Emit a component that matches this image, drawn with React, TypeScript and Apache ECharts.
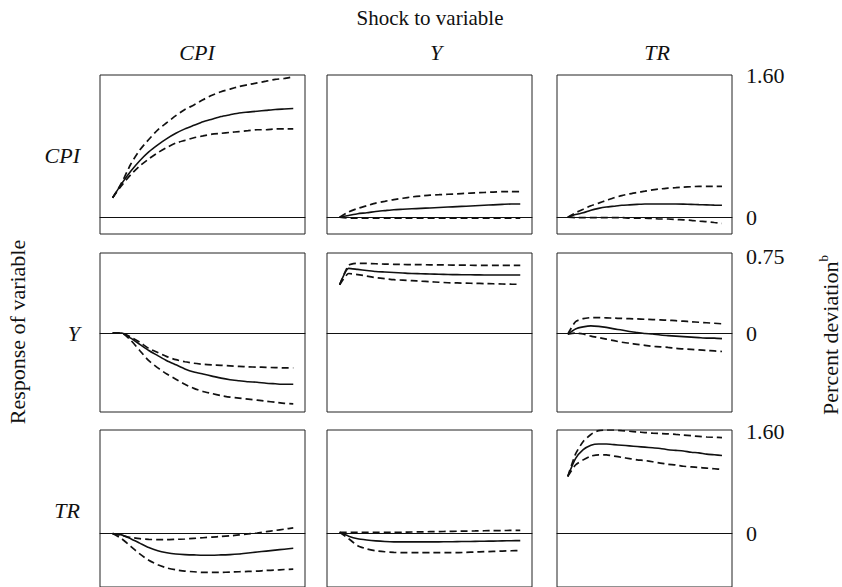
import React, { useEffect, useRef } from "react";
import * as echarts from "echarts";

// ---------- data ----------
const periods = [0, 1, 2, 3, 4, 5, 6, 7, 8, 9, 10, 11, 12, 13, 14, 15, 16, 17, 18, 19, 20];
const shockVars = ["CPI", "Y", "TR"];
const responseVars = ["CPI", "Y", "TR"];
const rowTickValues = [[0, 1.6], [0, 0.75], [0, 1.6]];
const rowTickLabels = [["0", "1.60"], ["0", "0.75"], ["0", "1.60"]];
const rowRanges = [[-0.19, 1.61], [-0.77, 0.78], [-0.84, 1.63]];

// response CPI
const cpiCpiMid = [0.22, 0.38, 0.52, 0.64, 0.74, 0.82, 0.89, 0.95, 1.0, 1.04, 1.08, 1.11, 1.14, 1.16, 1.18, 1.19, 1.2, 1.21, 1.22, 1.225, 1.23];
const cpiCpiHi = [0.22, 0.39, 0.6, 0.76, 0.88, 0.99, 1.07, 1.15, 1.22, 1.27, 1.33, 1.38, 1.42, 1.45, 1.48, 1.5, 1.52, 1.54, 1.56, 1.57, 1.59];
const cpiCpiLo = [0.22, 0.36, 0.48, 0.58, 0.66, 0.73, 0.79, 0.84, 0.87, 0.9, 0.92, 0.94, 0.95, 0.96, 0.97, 0.98, 0.99, 0.99, 1.0, 1.0, 1.0];
const cpiYMid = [0, 0.02, 0.04, 0.05, 0.065, 0.075, 0.085, 0.09, 0.095, 0.1, 0.105, 0.11, 0.115, 0.12, 0.125, 0.13, 0.135, 0.14, 0.145, 0.15, 0.15];
const cpiYHi = [0, 0.06, 0.1, 0.13, 0.16, 0.18, 0.2, 0.215, 0.23, 0.24, 0.25, 0.255, 0.26, 0.265, 0.27, 0.275, 0.28, 0.285, 0.29, 0.29, 0.29];
const cpiYLo = [0, -0.01, -0.01, -0.01, -0.01, -0.01, -0.01, -0.01, -0.01, -0.01, -0.01, -0.01, -0.01, -0.01, -0.01, -0.01, -0.01, -0.01, -0.01, -0.01, -0.01];
const cpiTrMid = [0, 0.03, 0.05, 0.08, 0.1, 0.115, 0.125, 0.135, 0.14, 0.145, 0.15, 0.15, 0.15, 0.15, 0.15, 0.148, 0.145, 0.142, 0.14, 0.137, 0.135];
const cpiTrHi = [0, 0.05, 0.09, 0.13, 0.16, 0.19, 0.22, 0.245, 0.265, 0.28, 0.295, 0.31, 0.32, 0.33, 0.335, 0.34, 0.345, 0.35, 0.35, 0.35, 0.35];
const cpiTrLo = [0, -0.005, -0.005, -0.005, -0.005, -0.005, -0.005, -0.005, -0.01, -0.01, -0.01, -0.015, -0.02, -0.02, -0.025, -0.03, -0.035, -0.045, -0.05, -0.06, -0.07];

// response Y
const yCpiMid = [0, 0, -0.05, -0.11, -0.17, -0.22, -0.27, -0.31, -0.35, -0.38, -0.4, -0.42, -0.44, -0.455, -0.465, -0.475, -0.48, -0.49, -0.495, -0.5, -0.5];
const yCpiHi = [0, 0, -0.04, -0.09, -0.15, -0.19, -0.23, -0.26, -0.28, -0.295, -0.305, -0.31, -0.315, -0.32, -0.325, -0.33, -0.332, -0.335, -0.337, -0.34, -0.34];
const yCpiLo = [0, 0, -0.07, -0.17, -0.27, -0.34, -0.4, -0.45, -0.5, -0.54, -0.57, -0.59, -0.61, -0.625, -0.635, -0.645, -0.655, -0.665, -0.675, -0.685, -0.69];
const yYMid = [0.47, 0.63, 0.62, 0.61, 0.6, 0.595, 0.59, 0.585, 0.58, 0.578, 0.575, 0.573, 0.57, 0.569, 0.568, 0.567, 0.566, 0.566, 0.565, 0.565, 0.565];
const yYHi = [0.47, 0.66, 0.68, 0.678, 0.675, 0.672, 0.67, 0.668, 0.667, 0.666, 0.665, 0.664, 0.663, 0.662, 0.661, 0.66, 0.66, 0.66, 0.66, 0.66, 0.66];
const yYLo = [0.47, 0.58, 0.57, 0.555, 0.54, 0.53, 0.52, 0.515, 0.51, 0.505, 0.5, 0.495, 0.49, 0.488, 0.486, 0.484, 0.482, 0.48, 0.478, 0.476, 0.475];
const yTrMid = [-0.01, 0.04, 0.06, 0.07, 0.065, 0.055, 0.04, 0.03, 0.015, 0.005, -0.005, -0.01, -0.02, -0.025, -0.03, -0.035, -0.04, -0.045, -0.05, -0.05, -0.055];
const yTrHi = [-0.01, 0.11, 0.14, 0.15, 0.15, 0.148, 0.145, 0.142, 0.14, 0.137, 0.134, 0.131, 0.128, 0.125, 0.12, 0.115, 0.11, 0.105, 0.1, 0.095, 0.09];
const yTrLo = [-0.01, 0.0, -0.01, -0.03, -0.045, -0.06, -0.075, -0.09, -0.1, -0.11, -0.12, -0.13, -0.135, -0.14, -0.15, -0.155, -0.16, -0.165, -0.17, -0.175, -0.18];

// response TR
const trCpiMid = [0, -0.02, -0.08, -0.15, -0.22, -0.27, -0.3, -0.32, -0.33, -0.335, -0.34, -0.34, -0.335, -0.33, -0.32, -0.305, -0.29, -0.275, -0.26, -0.245, -0.23];
const trCpiHi = [0, -0.03, -0.06, -0.08, -0.09, -0.095, -0.095, -0.09, -0.085, -0.075, -0.065, -0.055, -0.045, -0.035, -0.02, -0.005, 0.01, 0.03, 0.05, 0.07, 0.09];
const trCpiLo = [0, -0.08, -0.2, -0.32, -0.42, -0.49, -0.54, -0.57, -0.59, -0.6, -0.61, -0.61, -0.61, -0.605, -0.6, -0.595, -0.59, -0.58, -0.575, -0.565, -0.56];
const trYMid = [0.02, -0.04, -0.08, -0.1, -0.115, -0.125, -0.13, -0.13, -0.13, -0.13, -0.13, -0.13, -0.128, -0.126, -0.124, -0.122, -0.12, -0.118, -0.115, -0.112, -0.11];
const trYHi = [0.02, 0.02, 0.02, 0.02, 0.02, 0.02, 0.02, 0.022, 0.025, 0.027, 0.03, 0.032, 0.035, 0.037, 0.04, 0.042, 0.045, 0.047, 0.048, 0.05, 0.05];
const trYLo = [0.02, -0.08, -0.19, -0.24, -0.27, -0.285, -0.295, -0.3, -0.3, -0.3, -0.3, -0.3, -0.3, -0.3, -0.295, -0.29, -0.285, -0.28, -0.275, -0.27, -0.265];
const trTrMid = [0.9, 1.18, 1.32, 1.39, 1.41, 1.41, 1.4, 1.39, 1.38, 1.37, 1.36, 1.35, 1.34, 1.32, 1.31, 1.3, 1.28, 1.27, 1.25, 1.24, 1.23];
const trTrHi = [0.9, 1.25, 1.45, 1.56, 1.62, 1.63, 1.63, 1.62, 1.61, 1.6, 1.59, 1.58, 1.575, 1.57, 1.56, 1.55, 1.54, 1.53, 1.52, 1.515, 1.51];
const trTrLo = [0.9, 1.08, 1.16, 1.22, 1.24, 1.24, 1.22, 1.2, 1.18, 1.16, 1.15, 1.13, 1.11, 1.09, 1.08, 1.06, 1.05, 1.04, 1.03, 1.02, 1.01];

// panels[row][col] = [mid, hi, lo]
const panels = [
  [[cpiCpiMid, cpiCpiHi, cpiCpiLo], [cpiYMid, cpiYHi, cpiYLo], [cpiTrMid, cpiTrHi, cpiTrLo]],
  [[yCpiMid, yCpiHi, yCpiLo], [yYMid, yYHi, yYLo], [yTrMid, yTrHi, yTrLo]],
  [[trCpiMid, trCpiHi, trCpiLo], [trYMid, trYHi, trYLo], [trTrMid, trTrHi, trTrLo]],
];

// ---------- layout ----------
const colBoxes = [[100, 205], [327, 205], [557, 175]];
const rowBoxes = [[75, 159], [253, 159], [430, 159]];
const colLabelX = [197, 436, 657];
const FONT = "Liberation Serif, Times New Roman, serif";

export default function App() {
  const ref = useRef<HTMLDivElement>(null);

  useEffect(() => {
    if (!ref.current) return;
    const chart = echarts.init(ref.current, undefined, { renderer: "svg" });

    const grid: any[] = [];
    const xAxis: any[] = [];
    const yAxis: any[] = [];
    const series: any[] = [];

    let idx = 0;
    for (let r = 0; r < 3; r++) {
      for (let c = 0; c < 3; c++) {
        grid.push({
          left: colBoxes[c][0],
          top: rowBoxes[r][0],
          width: colBoxes[c][1],
          height: rowBoxes[r][1],
          show: true,
          borderColor: "#222",
          borderWidth: 1,
          backgroundColor: "transparent",
        });
        xAxis.push({
          type: "value",
          gridIndex: idx,
          min: -1.4,
          max: 21.3,
          axisLabel: { show: false },
          axisTick: { show: false },
          splitLine: { show: false },
          axisLine: { show: true, onZero: true, lineStyle: { color: "#111", width: 1 } },
        });
        const isRight = c === 2;
        yAxis.push({
          type: "value",
          gridIndex: idx,
          position: isRight ? "right" : "left",
          min: rowRanges[r][0],
          max: rowRanges[r][1],
          splitLine: { show: false },
          axisLine: { show: false },
          axisTick: { show: false },
          axisLabel: isRight
            ? {
                show: true,
                margin: 14,
                customValues: rowTickValues[r],
                formatter: (v: number) => {
                  const k = rowTickValues[r].findIndex((t) => Math.abs(t - v) < 1e-9);
                  return k >= 0 ? rowTickLabels[r][k] : "";
                },
                fontFamily: FONT,
                fontSize: 22,
                color: "#111",
              }
            : { show: false },
        });
        const [mid, hi, lo] = panels[r][c];
        const mk = (vals: number[], dashed: boolean) => ({
          type: "line",
          xAxisIndex: idx,
          yAxisIndex: idx,
          data: periods.map((p, i) => [p, vals[i]]),
          showSymbol: false,
          smooth: 0.2,
          silent: true,
          lineStyle: {
            color: "#111",
            width: dashed ? 1.7 : 1.6,
            type: dashed ? [7, 4] : "solid",
          },
        });
        series.push(mk(mid, false), mk(hi, true), mk(lo, true));
        idx++;
      }
    }

    const graphic: any[] = [
      {
        type: "text",
        x: 430,
        y: 18,
        style: { text: "Shock to variable", font: `21px ${FONT}`, fill: "#111", align: "center", verticalAlign: "middle" },
      },
      ...shockVars.map((s, i) => ({
        type: "text",
        x: colLabelX[i],
        y: 52,
        style: { text: s, font: `italic 22px ${FONT}`, fill: "#111", align: "center", verticalAlign: "middle" },
      })),
      ...responseVars.map((s, i) => ({
        type: "text",
        x: 80,
        y: rowBoxes[i][0] + rowBoxes[i][1] / 2 + 1,
        style: { text: s, font: `italic 22px ${FONT}`, fill: "#111", align: "right", verticalAlign: "middle" },
      })),
      {
        type: "text",
        x: 17,
        y: 332,
        rotation: Math.PI / 2,
        style: { text: "Response of variable", font: `22px ${FONT}`, fill: "#111", align: "center", verticalAlign: "middle" },
      },
      {
        type: "text",
        x: 830,
        y: 335,
        rotation: Math.PI / 2,
        style: {
          text: "{m|Percent deviation}{s|b}",
          align: "center",
          verticalAlign: "middle",
          rich: {
            m: { fontFamily: FONT, fontSize: 22, fill: "#111", lineHeight: 26 },
            s: { fontFamily: FONT, fontSize: 13, fill: "#111", verticalAlign: "top", lineHeight: 26 },
          },
        },
      },
    ];

    chart.setOption({
      animation: false,
      backgroundColor: "#fff",
      grid,
      xAxis,
      yAxis,
      series,
      graphic,
    });

    return () => chart.dispose();
  }, []);

  return (
    <div
      ref={ref}
      style={{ position: "fixed", left: 0, top: 0, width: 842, height: 587, background: "#fff" }}
    />
  );
}
